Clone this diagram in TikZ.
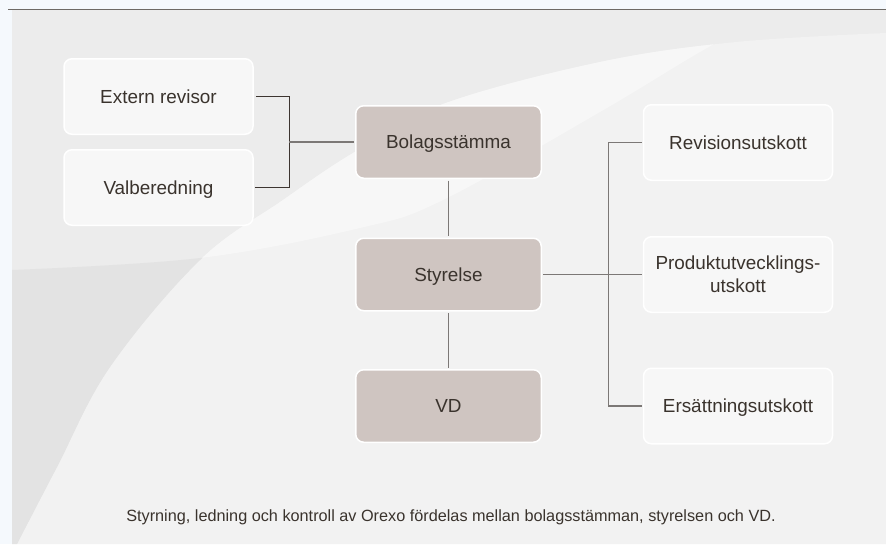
\documentclass[tikz,border=0pt]{standalone}
\usepackage{fontspec}
\setmainfont{Liberation Sans}
\definecolor{strip}{HTML}{F5F9FD}
\definecolor{bgA}{HTML}{ECECEC}
\definecolor{bgM}{HTML}{F2F2F2}
\definecolor{bgD}{HTML}{E3E3E3}
\definecolor{bgL}{HTML}{F7F7F7}
\definecolor{boxw}{HTML}{F7F7F7}
\definecolor{boxb}{HTML}{CFC5C1}
\definecolor{txt}{HTML}{3A332D}
\definecolor{rulec}{HTML}{6E6A66}
\definecolor{darkln}{HTML}{3D3530}
\definecolor{grayln}{HTML}{7C7876}
\begin{document}
\begin{tikzpicture}[x=1pt,y=-1pt,
  lbl/.style={font=\fontsize{18.9}{23}\selectfont, text=txt, align=center},
  wbox/.style={lbl, draw=white, line width=1.5pt, rounded corners=8pt, fill=boxw,
    minimum width=189pt, minimum height=75.5pt, inner sep=0pt},
  bbox/.style={wbox, fill=boxb, minimum width=185.5pt, minimum height=72.5pt},
  oneline/.style={text height=13.5pt, text depth=0pt},
  dline/.style={draw=darkln, line width=1pt},
  gline/.style={draw=grayln, line width=1.2pt},
  captext/.style={font=\fontsize{16.25}{19}\selectfont, text=txt}]
\useasboundingbox (0,0) rectangle (886,544);
% background
\fill[strip] (0,0) rectangle (886,544);
\fill[bgA] (12,10) rectangle (886,544);
\fill[bgM] plot[smooth,tension=0.6] coordinates {(17,544) (57,467) (110,367) (200,260) (283,200) (353,153) (443,104) (600,62) (736,42) (886,33)} -- (886,544) -- cycle;
\begin{scope}
  \clip (12,10) rectangle (500,544);
  \clip plot[smooth,tension=0.6] coordinates {(12,270) (200,258) (360,228) (443,200) (600,112) (700,52) (777,10)} -- (886,10) -- (886,544) -- (12,544) -- cycle;
  \fill[bgD] (12,544) -- plot[smooth,tension=0.6] coordinates {(17,544) (57,467) (110,367) (200,260) (283,200) (353,153) (443,104) (600,62) (736,42) (886,33)} -- (886,10) -- (12,10) -- cycle;
\end{scope}
\begin{scope}
  \clip plot[smooth,tension=0.6] coordinates {(12,270) (200,258) (360,228) (443,200) (600,112) (700,52) (777,10)} -- (12,10) -- cycle;
  \fill[bgL] plot[smooth,tension=0.6] coordinates {(17,544) (57,467) (110,367) (200,260) (283,200) (353,153) (443,104) (600,62) (736,42) (886,33)} -- (886,544) -- cycle;
\end{scope}
\draw[rulec, line width=1.5pt] (8,9.5) -- (886,9.5);
% nodes
\node[wbox, oneline] (ext) at (158.5,96.5) {Extern revisor};
\node[wbox, oneline] (val) at (158.5,187.5) {Valberedning};
\node[bbox, oneline] (bol) at (448.5,142) {Bolagsstämma};
\node[bbox, oneline] (sty) at (448.5,274.5) {Styrelse};
\node[bbox, oneline] (vd) at (448.5,406) {VD};
\node[wbox, oneline] (rev) at (738,142.5) {Revisionsutskott};
\node[wbox] (pro) at (738,274.5) {Produktutvecklings-\\utskott};
\node[wbox, oneline] (ers) at (738,406) {Ersättningsutskott};
\node[captext] (caption) at (451,517) {Styrning, ledning och kontroll av Orexo fördelas mellan bolagsstämman, styrelsen och VD.};
% connectors
\coordinate (jl) at (289,142);
\coordinate (jr) at (608.5,274.5);
\draw[dline] ([xshift=2pt]ext.east) -| (jl);
\draw[dline] ([xshift=1pt]val.east) -| (jl);
\draw[gline] (jl) -- ([xshift=-1pt]bol.west);
\draw[gline, shorten <=1.5pt, shorten >=1.5pt] (bol.south) -- (sty.north);
\draw[gline, shorten <=1.5pt, shorten >=1.5pt] (sty.south) -- (vd.north);
\draw[gline] ([xshift=1pt]sty.east) -- (jr);
\draw[gline] ([xshift=-1pt]rev.west) -| (jr);
\draw[gline] ([xshift=-1pt]pro.west) -- (jr);
\draw[gline] ([xshift=-1pt]ers.west) -| (jr);
\end{tikzpicture}
\end{document}
